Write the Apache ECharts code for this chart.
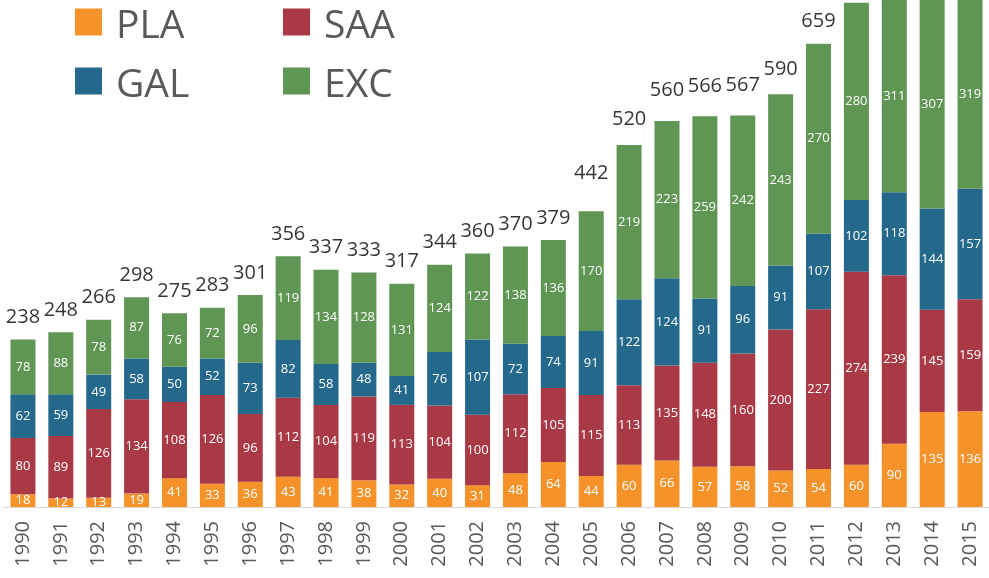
<!DOCTYPE html>
<html>
<head>
<meta charset="utf-8">
<script src="https://cdn.jsdelivr.net/npm/echarts@6/dist/echarts.min.js"></script>
<style>
  html, body { margin: 0; padding: 0; background: #fff; }
  #chart { width: 989px; height: 578px; }
</style>
</head>
<body>
<div id="chart"></div>
<script>
const years = [
  "1990", "1991", "1992", "1993", "1994", "1995", "1996", "1997", "1998",
  "1999", "2000", "2001", "2002", "2003", "2004", "2005", "2006", "2007",
  "2008", "2009", "2010", "2011", "2012", "2013", "2014", "2015",
];
const pla = [18, 12, 13, 19, 41, 33, 36, 43, 41, 38, 32, 40, 31, 48, 64, 44, 60, 66, 57, 58, 52, 54, 60, 90, 135, 136];
const saa = [80, 89, 126, 134, 108, 126, 96, 112, 104, 119, 113, 104, 100, 112, 105, 115, 113, 135, 148, 160, 200, 227, 274, 239, 145, 159];
const gal = [62, 59, 49, 58, 50, 52, 73, 82, 58, 48, 41, 76, 107, 72, 74, 91, 122, 124, 91, 96, 91, 107, 102, 118, 144, 157];
const exc = [78, 88, 78, 87, 76, 72, 96, 119, 134, 128, 131, 124, 122, 138, 136, 170, 219, 223, 259, 242, 243, 270, 280, 311, 307, 319];
// totals as printed above the bars (the last four are cut off in the picture)
const totals = [238, 248, 266, 298, 275, 283, 301, 356, 337, 333, 317, 344, 360, 370, 379, 442, 520, 560, 566, 567, 590, 659, null, null, null, null];

const FONT = "'Open Sans', 'Noto Sans', sans-serif";
const colors = ["#f5932a", "#aa3946", "#24688c", "#5f9654"];

function barSeries(name, data) {
  return {
    name: name,
    type: "bar",
    stack: "all",
    barWidth: 25,
    data: data,
    label: {
      show: true,
      position: "inside",
      color: "#fff",
      fontSize: 13,
      fontFamily: FONT,
    },
  };
}

const chart = echarts.init(document.getElementById("chart"), null, { renderer: "canvas" });

// square sits in the top of a taller icon box, so the name hangs a bit below it
const squareIcon = "path://M0,0L27,0L27,27L0,27ZM0,37";

function legendColumn(names, left) {
  return {
    data: names,
    orient: "vertical",
    left: left,
    top: 5,
    padding: 0,
    itemWidth: 27,
    itemHeight: 37,
    itemGap: 15,
    icon: squareIcon,
    textStyle: {
      fontSize: 39,
      lineHeight: 44,
      color: "#595959",
      fontFamily: FONT,
      padding: [0, 0, 0, 9],
    },
  };
}

chart.setOption({
  animation: false,
  color: colors,
  legend: [legendColumn(["PLA", "GAL"], 75), legendColumn(["SAA", "EXC"], 283)],
  grid: { left: 4, width: 988, top: 0, bottom: 71 },
  xAxis: {
    type: "category",
    data: years,
    axisTick: { show: false },
    axisLine: { lineStyle: { color: "#d9d9d9", width: 1 } },
    axisLabel: {
      rotate: 90,
      fontSize: 20,
      color: "#595959",
      fontFamily: FONT,
      margin: 14,
    },
  },
  yAxis: {
    type: "value",
    show: false,
    min: 0,
    max: 720,
    splitLine: { show: false },
  },
  series: [
    barSeries("PLA", pla),
    barSeries("SAA", saa),
    barSeries("GAL", gal),
    barSeries("EXC", exc),
    {
      name: "Total",
      type: "scatter",
      symbolSize: 0,
      data: totals,
      z: 10,
      label: {
        show: true,
        position: "top",
        distance: 12,
        color: "#000",
        fontSize: 20,
        fontFamily: FONT,
        formatter: (p) => p.value,
      },
    },
  ],
});
</script>
</body>
</html>
